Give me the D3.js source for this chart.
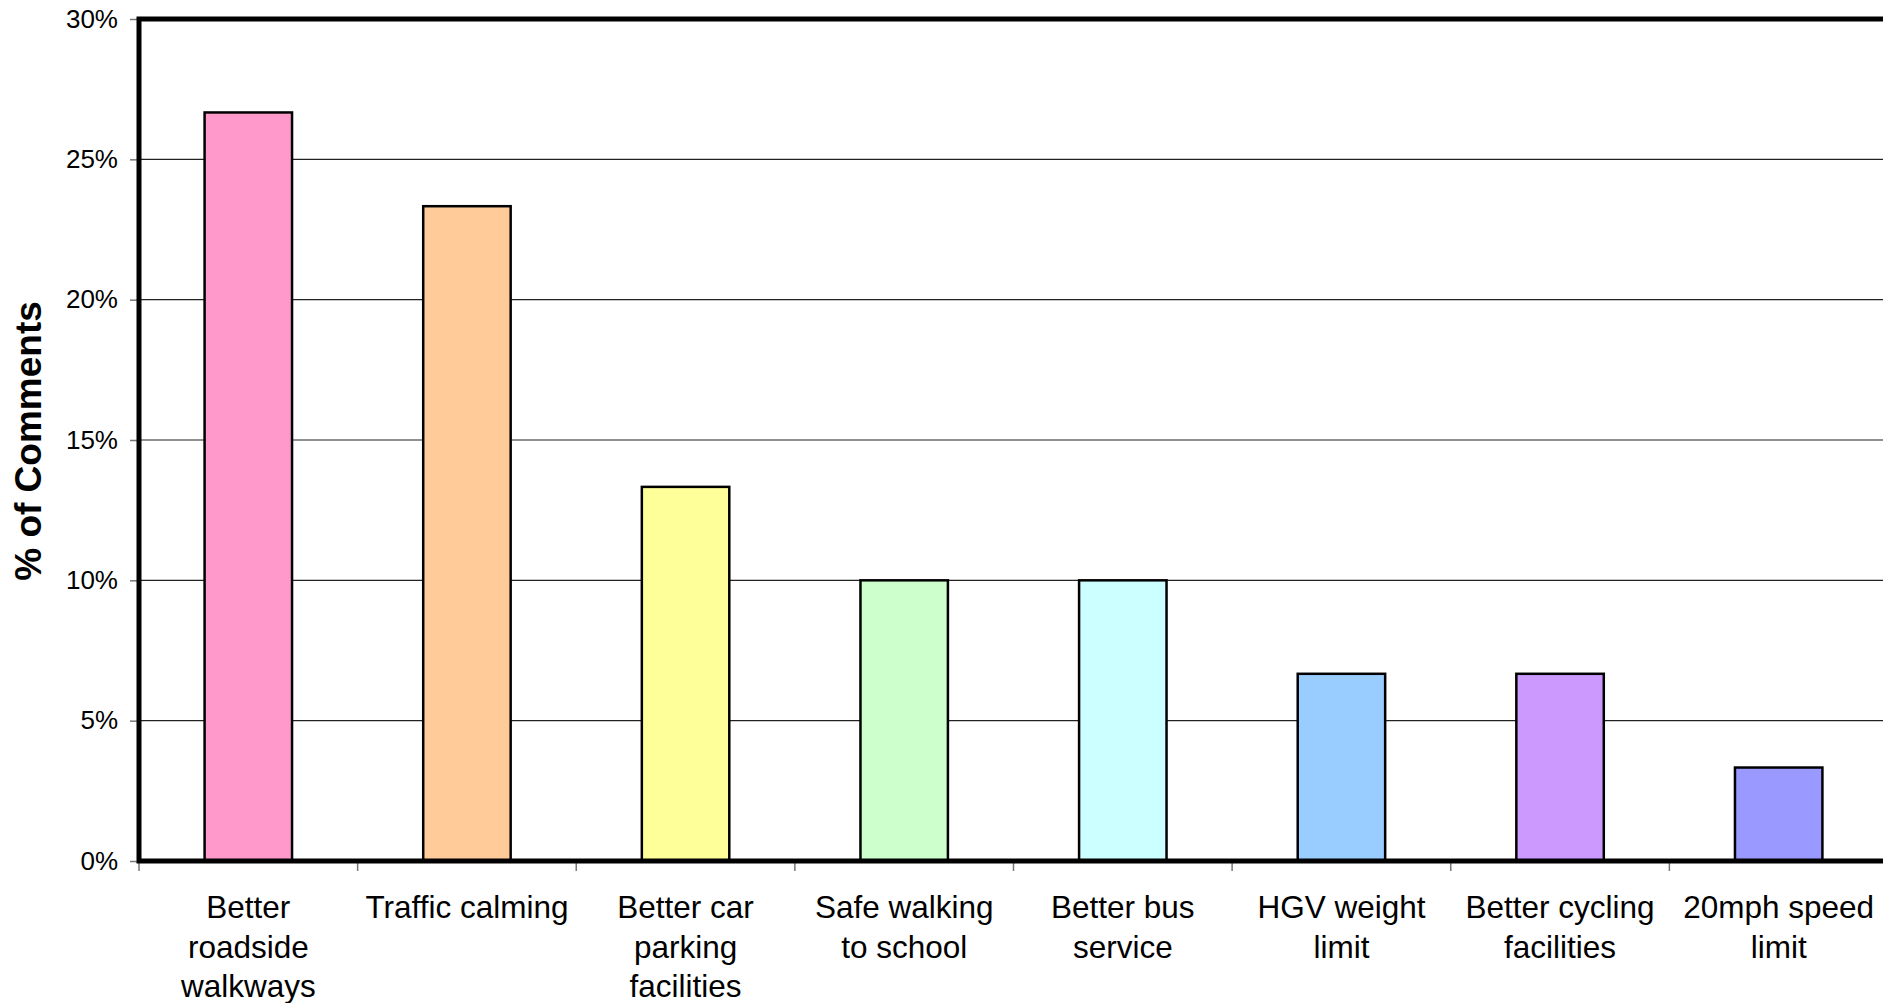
<!DOCTYPE html>
<html lang="en">
<head>
<meta charset="utf-8">
<title>% of Comments</title>
<style>
  body { margin: 0; background: #fff; }
  text { font-family: "Liberation Sans", Arial, sans-serif; fill: #000; }
</style>
<script src="https://cdn.jsdelivr.net/npm/d3@7"></script>
</head>
<body>
<svg width="1883" height="1003"></svg>
<script>
const categories = [
  ["Better", "roadside", "walkways"],
  ["Traffic calming"],
  ["Better car", "parking", "facilities"],
  ["Safe walking", "to school"],
  ["Better bus", "service"],
  ["HGV weight", "limit"],
  ["Better cycling", "facilities"],
  ["20mph speed", "limit"]
];
const values = [26.67, 23.33, 13.33, 10, 10, 6.67, 6.67, 3.33];
const colors = ["#ff99cc", "#ffcc99", "#ffff99", "#ccffcc", "#ccffff", "#99ccff", "#cc99ff", "#9999ff"];
const yTicks = [0, 5, 10, 15, 20, 25, 30];

const svg = d3.select("svg");
const marginL = 139, marginT = 19, plotW = 1749, plotH = 842;

const x = d3.scaleBand().domain(d3.range(values.length)).range([0, plotW]).paddingInner(0.6).paddingOuter(0.3);
const y = d3.scaleLinear().domain([0, 30]).range([plotH, 0]);

const g = svg.append("g").attr("transform", `translate(${marginL},${marginT})`);

// grid
g.append("g").selectAll("line").data(yTicks.slice(1, -1)).join("line")
  .attr("x1", 0).attr("x2", plotW)
  .attr("y1", d => y(d)).attr("y2", d => y(d))
  .attr("stroke", "#222").attr("stroke-width", 1.2);

// y ticks
const yAxis = g.append("g")
  .call(d3.axisLeft(y).tickValues(yTicks).tickFormat(d => d + "%").tickSize(9).tickPadding(12));
yAxis.select(".domain").remove();
yAxis.selectAll("line").attr("stroke", "#777").attr("stroke-width", 1.5);
yAxis.selectAll("text").style("font-size", "26px").attr("font-family", null);

// x ticks at band boundaries
g.append("g").selectAll("line").data(d3.range(values.length + 1)).join("line")
  .attr("x1", i => i * x.step()).attr("x2", i => i * x.step())
  .attr("y1", plotH).attr("y2", plotH + 10)
  .attr("stroke", "#777").attr("stroke-width", 1.5);

// bars
g.append("g").selectAll("rect").data(values).join("rect")
  .attr("x", (d, i) => x(i)).attr("width", x.bandwidth())
  .attr("y", d => y(d)).attr("height", d => plotH - y(d))
  .attr("fill", (d, i) => colors[i])
  .attr("stroke", "#000").attr("stroke-width", 2.5);

// frame
g.append("rect").attr("width", plotW).attr("height", plotH)
  .attr("fill", "none").attr("stroke", "#000").attr("stroke-width", 5);

// x labels
const lbl = g.append("g").selectAll("text").data(categories).join("text")
  .attr("text-anchor", "middle")
  .attr("x", (d, i) => x(i) + x.bandwidth() / 2)
  .attr("y", plotH + 57)
  .style("font-size", "31.5px");
lbl.selectAll("tspan").data(d => d).join("tspan")
  .attr("x", function() { return this.parentNode.getAttribute("x"); })
  .attr("dy", (d, i) => i ? 39.5 : 0)
  .text(d => d);

// y title
svg.append("text")
  .attr("transform", `translate(41,${marginT + plotH / 2 + 1}) rotate(-90)`)
  .attr("text-anchor", "middle")
  .style("font-size", "37px").style("font-weight", "bold")
  .text("% of Comments");
</script>
</body>
</html>
